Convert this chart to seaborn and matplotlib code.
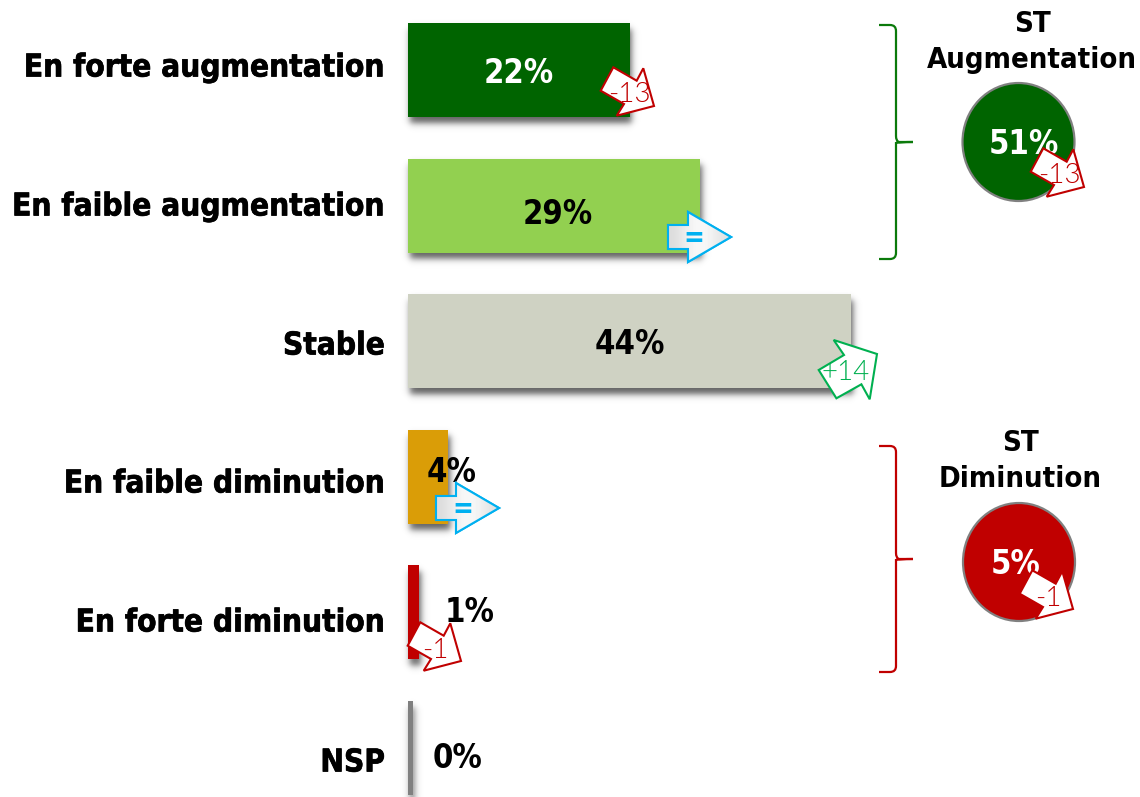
import numpy as np
import pandas as pd
import seaborn as sns
import matplotlib.pyplot as plt
import matplotlib.patheffects as pe
from matplotlib.patches import Ellipse, PathPatch, Polygon
from matplotlib.path import Path

categories = ["En forte augmentation", "En faible augmentation", "Stable",
              "En faible diminution", "En forte diminution", "NSP"]
values = [22, 29, 44, 4, 1.1, 0.45]
value_labels = ["22%", "29%", "44%", "4%", "1%", "0%"]
bar_colors = ["#006400", "#92D050", "#CFD2C3", "#DA9D07", "#C00000", "#808080"]
label_colors = ["white", "black", "black", "black", "black", "black"]

evolutions = ["-13", "=", "+14", "=", "-1"]
summary_titles = ["ST\nAugmentation", "ST\nDiminution"]
summary_labels = ["51%", "5%"]
summary_evolutions = ["-13", "-1"]
summary_colors = ["#006400", "#C00000"]

# pixel layout of the reference
W, H = 1140, 797
X0 = 408
PX_PER_PCT = 10.07
tick_y = [65, 204, 343, 481, 620, 760]
label_xy = [(519, 73), (558, 214), (630, 344), (452, 472), (470, 613), (458, 758)]
arrow_tips = [(654, 106), (731, 237), (877, 354), (499, 508), (461, 661)]
arrow_text_xy = [(629, 94), (694, 238), (846, 372), (463, 509), (435, 651)]
summary_tips = [(1084, 187), (1073, 609)]
summary_text_xy = [(1059, 175), (1048, 599)]
circle_xy = [(1018.5, 142), (1019, 562)]
circle_label_xy = [(1024, 144), (1016, 565)]
title_xy = [(1032, 42), (1020, 461)]
brace_y = [(25, 142, 259), (446, 559, 672)]

ARROWS = {
    "down": [(-40.7, -38.7), (-53.3, -15.3), (-30, -2), (-37.3, 9.7), (0, 0), (-10.7, -37.7), (-17.3, -25.3)],
    "up": [(-58.3, 16), (-40.6, 44.3), (-15.6, 30.3), (-7.3, 45.3), (0, 0), (-43.3, -14), (-33, 1)],
    "flat": [(-63, -12), (-63, 12), (-43, 12), (-43, 25), (0, 0), (-43, -25), (-43, -12)],
}
RED, GREEN, BLUE = "#C00000", "#00B050", "#00B0F0"
THIN = "Lato"

sns.set_theme(style="white")
plt.rcParams["font.family"] = ["DejaVu Sans"]
plt.rcParams["font.stretch"] = "condensed"
plt.rcParams["font.weight"] = "bold"

df = pd.DataFrame({"categorie": categories, "valeur": values})

fig = plt.figure(figsize=(W / 100, H / 100), dpi=100)
ax = fig.add_axes([X0 / W, 0, 1 - X0 / W, 1], zorder=2)
ax.patch.set_visible(False)
sns.barplot(data=df, y="categorie", x="valeur", hue="categorie", palette=bar_colors,
            width=0.693, saturation=1, legend=False, linewidth=0, ax=ax)
ax.set_xlim(0, (W - X0) / PX_PER_PCT)
ax.set_ylim((797 - 70) / 135.6, -70 / 135.6)
ax.set_xlabel("")
ax.set_ylabel("")
ax.set_xticks([])
ax.set_yticks([(y - 70) / 135.6 for y in tick_y], categories)
ax.tick_params(axis="y", length=0, pad=16.5, labelsize=22.6, labelcolor="black")
for lab in ax.get_yticklabels():
    lab.set_path_effects([pe.withStroke(linewidth=0.5, foreground="black")])
sns.despine(ax=ax, left=True, bottom=True)

# blurred shadow behind the bars, from the bar extents
back = fig.add_axes([0, 0, 1, 1], zorder=1)
back.axis("off")
xx = np.arange(W) + 0.5
yy = np.arange(H) + 0.5
shade = np.zeros((H, W))
for bar in ax.patches:
    (x0, y1), (x1, y0) = ax.transData.transform(bar.get_bbox().get_points())
    y0, y1 = H - y0, H - y1
    top, bot = min(y0, y1), max(y0, y1)
    sx = 0.5 * (np.tanh((xx - x0 - 2) / 4) - np.tanh((xx - x1 - 2) / 4))
    sy = 0.5 * (np.tanh((yy - top - 6) / 4) - np.tanh((yy - bot - 6) / 4))
    shade += np.outer(sy, sx)
rgba = np.zeros((H, W, 4))
rgba[..., 3] = np.clip(shade, 0, 1) * 0.62
back.imshow(rgba, extent=(0, W, H, 0), aspect="auto", interpolation="bilinear")

# overlay in pixels for the callouts
over = fig.add_axes([0, 0, 1, 1], zorder=5)
over.set_xlim(0, W)
over.set_ylim(H, 0)
over.axis("off")


def draw_arrow(tip, evo):
    kind = "flat" if evo == "=" else ("up" if evo.startswith("+") else "down")
    color = {"flat": BLUE, "up": GREEN, "down": RED}[kind]
    pts = [(tip[0] + dx, tip[1] + dy) for dx, dy in ARROWS[kind]]
    poly = Polygon(pts, closed=True, fc="white", ec=color, lw=1.5, joinstyle="miter", zorder=3)
    over.add_patch(poly)
    if kind == "flat":
        xs = [p[0] for p in pts]
        ys = [p[1] for p in pts]
        grad = np.array([[0.86, 0.94, 0.98, 0.95, 0.88]])
        im = over.imshow(grad, cmap="gray", vmin=0, vmax=1, aspect="auto", zorder=3.1,
                         extent=(min(xs), max(xs), max(ys), min(ys)), interpolation="bicubic")
        im.set_clip_path(poly)
        over.add_patch(Polygon(pts, closed=True, fc="none", ec=color, lw=1.5,
                               joinstyle="miter", zorder=3.2))
    return color


def draw_brace(x, y0, ym, y1, color, lw=1.6):
    verts = [(x - 17, y0), (x - 6, y0), (x, y0), (x, y0 + 6), (x, ym - 6),
             (x, ym - 1), (x + 3, ym), (x + 17, ym), (x + 3, ym), (x, ym + 1), (x, ym + 6),
             (x, y1 - 6), (x, y1), (x - 6, y1), (x - 17, y1)]
    codes = [Path.MOVETO, Path.LINETO, Path.CURVE3, Path.CURVE3, Path.LINETO,
             Path.CURVE3, Path.CURVE3, Path.LINETO, Path.CURVE3, Path.CURVE3, Path.LINETO,
             Path.LINETO, Path.CURVE3, Path.CURVE3, Path.LINETO]
    over.add_patch(PathPatch(Path(verts, codes), fc="none", ec=color, lw=lw))


def thin_text(x, y, txt, color):
    over.text(x, y, txt, ha="center", va="center", fontsize=20, family=THIN,
              fontweight=300, stretch="normal", color=color, zorder=4)


for txt, (x, y), col in zip(value_labels, label_xy, label_colors):
    over.text(x, y, txt, ha="center", va="center", fontsize=23.5, color=col, zorder=2)

for evo, tip, (x, y) in zip(evolutions, arrow_tips, arrow_text_xy):
    col = draw_arrow(tip, evo)
    if evo == "=":
        over.text(x, y, evo, ha="center", va="center", fontsize=20, color=col, zorder=4)
    else:
        thin_text(x, y, evo, col)

for i in range(2):
    col = summary_colors[i]
    over.add_patch(Ellipse(circle_xy[i], 112, 118, fc=col, ec="#808080", lw=1.6, zorder=1))
    over.text(*circle_label_xy[i], summary_labels[i], ha="center", va="center", fontsize=23.5,
              color="white", zorder=2)
    over.text(*title_xy[i], summary_titles[i], ha="center", va="center", fontsize=21,
              color="black", linespacing=1.34)
    draw_arrow(summary_tips[i], summary_evolutions[i])
    thin_text(*summary_text_xy[i], summary_evolutions[i], RED)
    draw_brace(896, *brace_y[i], "#0B7A0B" if i == 0 else RED)

over.set_xlim(0, W)
over.set_ylim(H, 0)

fig.savefig("out.png", dpi=100)
